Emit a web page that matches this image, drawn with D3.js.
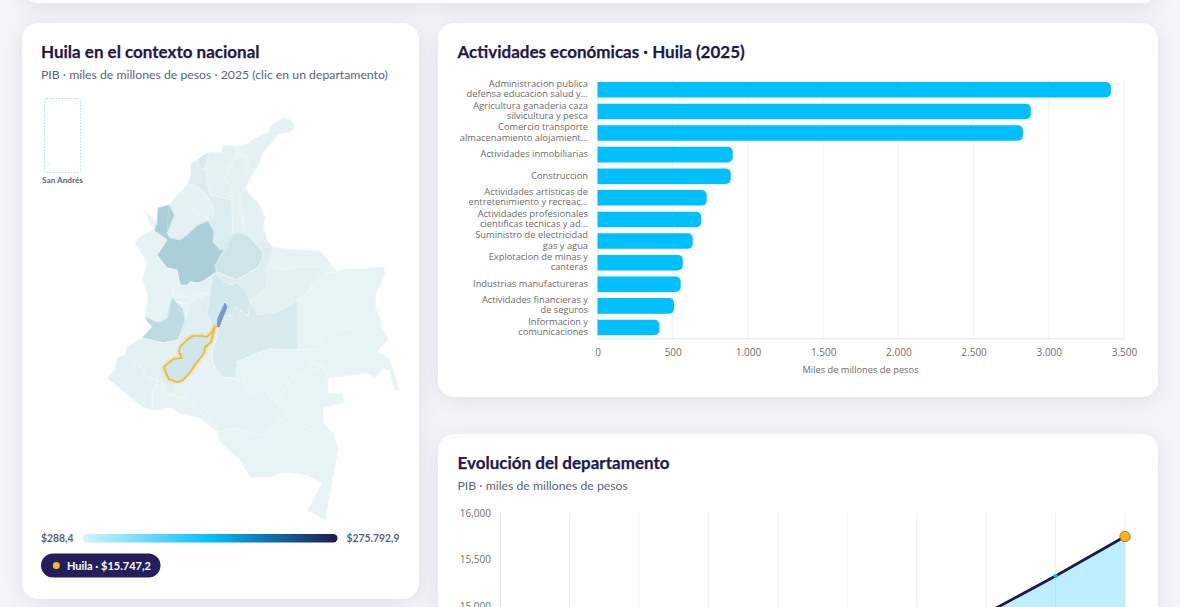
<!DOCTYPE html>
<html>
<head>
<meta charset="utf-8">
<script src="https://cdn.jsdelivr.net/npm/d3@7"></script>
<style>
html, body { margin: 0; padding: 0; width: 1180px; height: 607px; overflow: hidden; background: #f6f5f8; }
svg { display: block; position: absolute; left: 0; top: 0; }
.card { filter: drop-shadow(0 4px 12px rgba(31, 26, 77, 0.10)); }
.title { font-family: Lato, sans-serif; font-weight: 700; font-size: 17px; fill: #1f1a4d; stroke: #1f1a4d; stroke-width: 0.25px; }
.sub { font-family: Lato, sans-serif; font-size: 12.25px; fill: #5a6478; }
.tick text { font-family: "Open Sans", sans-serif; font-size: 10px; fill: #6f6f6f; }
.cat text, .axis-title { font-family: "Open Sans", sans-serif; font-size: 9.3px; fill: #6b6b6b; }
.legend-label { font-family: Lato, sans-serif; font-weight: 700; font-size: 10.4px; fill: #5a6478; }
</style>
</head>
<body>
<svg id="chart" width="1180" height="607"></svg>
<script>
// actividades (barras)
var categories = [
  "Administracion publica|defensa educacion salud y...",
  "Agricultura ganaderia caza|silvicultura y pesca",
  "Comercio transporte|almacenamiento alojamient...",
  "Actividades inmobiliarias",
  "Construccion",
  "Actividades artisticas de|entretenimiento y recreac...",
  "Actividades profesionales|cientificas tecnicas y ad...",
  "Suministro de electricidad|gas y agua",
  "Explotacion de minas y|canteras",
  "Industrias manufactureras",
  "Actividades financieras y|de seguros",
  "Informacion y|comunicaciones"
];
var activityValues = [3413, 2881, 2828, 899, 886, 726, 690, 633, 567, 553, 509, 411];
var activityTicks = [0, 500, 1000, 1500, 2000, 2500, 3000, 3500];

// evolucion del departamento (la parte baja queda fuera de la ventana)
var years = [2016, 2017, 2018, 2019, 2020, 2021, 2022, 2023, 2024, 2025];
var pibValues = [12700, 12980, 13230, 12520, 13300, 14050, 14500, 14920, 15323, 15747];
var pibTicks = [15000, 15500, 16000];

// contorno del pais en lon/lat
var countryRing = [[-73.8,11.36],[-73.4,11.4],[-72.88,11.72],[-72.48,11.88],[-72.32,12.2],[-71.88,12.48],[-71.6,12.4],[-71.4,12.16],[-71.6,11.92],[-72.08,11.84],[-72.32,11.52],[-72.68,11.12],[-72.88,10.6],[-73.12,10.2],[-73.4,9.68],[-73.2,9.4],[-72.88,9.08],[-72.6,8.52],[-72.68,8.12],[-72.52,7.6],[-72.28,7.28],[-71.2,7.2],[-70.4,7.16],[-69.72,6.32],[-69.4,6.44],[-68.8,6.44],[-67.88,6.52],[-67.8,6.28],[-67.92,6],[-68.16,5.48],[-68.2,4.92],[-68,4.48],[-67.92,4.08],[-67.68,3.68],[-68.12,3.12],[-67.68,2.88],[-67.52,2.48],[-67.32,1.88],[-67.24,1.6],[-67.4,1.56],[-67.6,2.4],[-67.88,2.48],[-68.2,2.12],[-68.52,2.28],[-70.08,2.08],[-70.08,1.48],[-69.52,1.44],[-69.44,1.08],[-70.28,0.92],[-70.28,0.28],[-69.88,-0.12],[-69.68,-0.72],[-70.2,-3.6],[-70.88,-3.2],[-70.28,-2.12],[-70.92,-1.8],[-71.88,-1.68],[-72.4,-1.88],[-73.2,-1.88],[-73.6,-1.2],[-74.4,-0.48],[-74.48,-0.08],[-75.2,0.48],[-76,0.68],[-76.4,0.92],[-77.08,0.8],[-77.48,0.92],[-77.92,1.28],[-78.92,2.08],[-78.6,2.4],[-78.52,2.88],[-78.2,3],[-78.12,3.32],[-77.52,3.68],[-77.12,4.12],[-77.4,4.48],[-77.28,5.32],[-77.48,6],[-77.32,6.72],[-77.8,7.48],[-77.6,7.72],[-77,8.04],[-77.2,8.2],[-77.4,8.76],[-77.2,8.56],[-76.92,8.28],[-76.76,8.6],[-76.88,8.88],[-76.44,9],[-76,9.52],[-75.68,9.8],[-75.56,10.2],[-75.56,10.64],[-75.32,10.8],[-74.84,11.12],[-74.32,11.08],[-74.28,11.4]];

// departamentos: nombre, PIB estimado y contorno en lon/lat
var deptNames = ["La Guajira","Magdalena","Atlantico","Bolivar","Sucre","Cordoba","Antioquia","Choco","Cesar","Norte de Santander","Santander","Boyaca","Arauca","Casanare","Vichada","Guainia","Meta","Guaviare","Vaupes","Amazonas","Caqueta","Tolima","Caldas","Risaralda","Quindio","Valle del Cauca","Cundinamarca","Cauca","Narino","Putumayo","Huila","Bogota"];
var deptValues = [6000,12000,48000,32000,6000,9000,172000,3000,11000,9000,78000,28000,4000,12000,800,500,40000,1200,288.4,900,3000,20000,11000,10000,5000,118000,60000,11000,9000,3000,15747.2,275792.9];
var deptRings = [
  [[-73.8,11.36],[-73.4,11.4],[-72.88,11.72],[-72.48,11.88],[-72.32,12.2],[-71.88,12.48],[-71.6,12.4],[-71.4,12.16],[-71.6,11.92],[-72.08,11.84],[-72.32,11.52],[-72.68,11.12],[-72.88,10.6],[-73.12,10.2],[-73.4,10.52],[-73.24,10.72],[-73.32,10.92],[-73.72,11]],
  [[-74.84,11.12],[-74.32,11.08],[-74.28,11.4],[-73.8,11.36],[-73.72,11],[-74.08,10.48],[-74.2,10.08],[-73.92,9.68],[-73.92,9.2],[-74.8,9.4],[-74.96,10],[-74.96,10.36]],
  [[-74.84,11.12],[-75.32,10.8],[-75.36,10.56],[-75.08,10.4],[-74.96,10.36]],
  [[-75.32,10.8],[-75.56,10.64],[-75.56,10.2],[-75.68,9.8],[-75.4,9.8],[-75,9.48],[-74.68,8.92],[-74.68,8.48],[-74.88,8.36],[-74.64,7.92],[-74.68,7.52],[-74.4,7.2],[-74.08,7.32],[-73.88,7.88],[-73.92,8.68],[-73.92,9.2],[-74.8,9.4],[-74.96,10],[-74.96,10.36],[-75.08,10.4],[-75.36,10.56]],
  [[-76,9.52],[-75.68,9.8],[-75.4,9.8],[-75,9.48],[-74.68,8.92],[-74.68,8.48],[-75,8.52],[-75.4,8.68],[-75.48,9.28]],
  [[-76.44,9],[-76,9.52],[-75.48,9.28],[-75.4,8.68],[-75,8.52],[-74.88,8.36],[-75.28,8.2],[-75.72,7.8],[-76,7.6],[-76.4,7.68],[-76.52,7.88],[-76.24,8.6]],
  [[-76.88,8.88],[-76.44,9],[-76.24,8.6],[-76.52,7.88],[-76.4,7.68],[-76,7.6],[-75.72,7.8],[-75.28,8.2],[-74.88,8.36],[-74.64,7.92],[-74.68,7.52],[-74.4,7.2],[-74.08,7.32],[-74.52,6.72],[-74.6,6.28],[-75.12,5.92],[-75.32,5.88],[-75.6,5.92],[-75.68,5.8],[-76,5.8],[-76.12,6.4],[-76.52,6.48],[-76.92,7],[-76.52,7.6],[-77.08,8],[-76.92,8.28],[-76.76,8.6]],
  [[-77.4,8.76],[-77.2,8.56],[-76.92,8.28],[-77.08,8],[-76.52,7.6],[-76.92,7],[-76.52,6.48],[-76.12,6.4],[-76,5.8],[-76.28,5.6],[-76.32,5.32],[-76.4,4.8],[-76.52,4.48],[-76.8,4.32],[-77.04,4.36],[-77.32,4.52],[-77.4,4.48],[-77.28,5.32],[-77.48,6],[-77.32,6.72],[-77.8,7.48],[-77.6,7.72],[-77,8.04],[-77.2,8.2]],
  [[-73.72,11],[-73.32,10.92],[-73.24,10.72],[-73.4,10.52],[-73.12,10.2],[-73.4,9.68],[-73.6,9.28],[-73.68,8.8],[-73.4,8.12],[-73.56,7.88],[-73.88,7.88],[-73.92,8.68],[-73.92,9.2],[-73.92,9.68],[-74.2,10.08],[-74.08,10.48]],
  [[-73.6,9.28],[-73.4,9.68],[-73.2,9.4],[-72.88,9.08],[-72.6,8.52],[-72.68,8.12],[-72.52,7.6],[-73,7.48],[-73.32,7.8],[-73.56,7.88],[-73.4,8.12],[-73.68,8.8]],
  [[-73.88,7.88],[-73.56,7.88],[-73.32,7.8],[-73,7.48],[-72.68,7.12],[-72.72,6.8],[-72.92,6.48],[-73.72,6],[-74.52,6.32],[-74.6,6.6],[-74.52,6.72],[-74.08,7.32]],
  [[-74.52,6.32],[-73.72,6],[-72.92,6.48],[-72.72,6.8],[-72.68,7.12],[-73,7.48],[-72.52,7.6],[-72.28,7.28],[-72.52,6.52],[-72.4,6.12],[-72.52,5.72],[-73.2,5.12],[-73.4,5.6],[-73.72,5.88],[-74,5.8],[-74.48,6.12],[-74.6,6.28]],
  [[-72.28,7.28],[-71.2,7.2],[-70.4,7.16],[-69.72,6.32],[-70.12,6.28],[-70.4,6.52],[-71.32,6.52],[-72,6.4],[-72.52,6.52]],
  [[-72.52,6.52],[-72,6.4],[-71.32,6.52],[-70.4,6.52],[-70.12,6.28],[-70.68,5.88],[-70.92,5.52],[-71.28,5.2],[-72.12,4.72],[-72.88,4.6],[-73.2,5.12],[-72.52,5.72],[-72.4,6.12]],
  [[-70.12,6.28],[-69.72,6.32],[-69.4,6.44],[-68.8,6.44],[-67.88,6.52],[-67.8,6.28],[-67.92,6],[-68.16,5.48],[-68.2,4.92],[-68,4.48],[-67.92,4.08],[-68.52,4.28],[-68.92,4.08],[-69.72,4],[-70.32,3.68],[-70.52,3.24],[-71.28,3.2],[-71.28,5.2],[-70.92,5.52],[-70.68,5.88]],
  [[-70.32,3.68],[-69.72,4],[-68.92,4.08],[-68.52,4.28],[-67.92,4.08],[-67.68,3.68],[-68.12,3.12],[-67.68,2.88],[-67.52,2.48],[-67.32,1.88],[-67.24,1.6],[-67.4,1.56],[-67.6,2.4],[-67.88,2.48],[-68.2,2.12],[-68.52,2.28],[-70.08,2.08],[-70.28,2.6],[-70.8,2.68],[-71,2.92],[-70.52,3.24]],
  [[-74.48,4.12],[-74.4,4.52],[-73.92,4.6],[-73.8,4.92],[-73.28,4.56],[-73.2,5.12],[-72.88,4.6],[-72.12,4.72],[-71.28,5.2],[-71.28,3.2],[-72.4,3.24],[-73.08,3],[-73.72,2.72],[-73.8,2.08],[-74.32,2.12],[-74.68,2.6],[-74.72,3.12],[-74.56,3.6]],
  [[-73.72,2.72],[-73.08,3],[-72.4,3.24],[-71.28,3.2],[-70.52,3.24],[-71,2.92],[-70.8,2.68],[-70.28,2.6],[-70.4,2.48],[-71.52,2.12],[-71.88,1.48],[-72.2,1.12],[-72.6,1.6],[-73.2,1.4],[-73.8,2.08]],
  [[-70.28,2.6],[-70.08,2.08],[-70.08,1.48],[-69.52,1.44],[-69.44,1.08],[-70.28,0.92],[-70.28,0.28],[-69.88,-0.12],[-69.68,-0.72],[-70.48,-0.52],[-70.52,-0.08],[-71.08,0.2],[-71.64,0.6],[-72.2,1.12],[-71.88,1.48],[-71.52,2.12],[-70.4,2.48]],
  [[-69.68,-0.72],[-70.2,-3.6],[-70.88,-3.2],[-70.28,-2.12],[-70.92,-1.8],[-71.88,-1.68],[-72.4,-1.88],[-73.2,-1.88],[-73.6,-1.2],[-74.4,-0.48],[-74.48,-0.08],[-73.88,0.08],[-73.32,-0.08],[-72.72,-0.2],[-72.2,0.2],[-71.64,0.6],[-71.08,0.2],[-70.52,-0.08],[-70.48,-0.52]],
  [[-74.48,4.12],[-74.56,3.6],[-74.72,3.12],[-74.68,2.6],[-74.32,2.12],[-73.8,2.08],[-73.2,1.4],[-72.6,1.6],[-72.2,1.12],[-71.64,0.6],[-72.2,0.2],[-72.72,-0.2],[-73.32,-0.08],[-73.88,0.08],[-74.48,-0.08],[-74.8,0.4],[-75.28,0.8],[-75.72,1.2],[-76.28,1.4],[-76.12,1.92],[-75.68,2.28],[-75.28,2.8],[-75,3.12],[-74.72,3.6]],
  [[-74.8,5.48],[-74.92,4.68],[-74.68,4.16],[-74.6,4.16],[-74.92,3.72],[-75.48,3.76],[-75.72,3.6],[-76,3.32],[-76.12,3.6],[-75.96,3.92],[-75.8,4.4],[-75.6,5.08],[-75.48,5.52]],
  [[-76.28,5.6],[-76,5.8],[-75.68,5.8],[-75.6,5.92],[-75.32,5.88],[-75.12,5.92],[-74.6,6.28],[-74.72,6.08],[-74.8,5.48],[-75.48,5.52],[-75.6,5.28],[-76.08,5.28]],
  [[-76.28,5.6],[-76.08,5.28],[-75.6,5.28],[-75.6,5.08],[-75.88,5.08],[-76.16,5.12],[-76.32,5.32]],
  [[-76.16,5.12],[-75.88,5.08],[-75.6,5.08],[-75.8,4.4],[-75.92,4.88]],
  [[-76.32,5.32],[-76.16,5.12],[-75.92,4.88],[-75.8,4.4],[-75.96,3.92],[-76.12,3.6],[-76.68,3.48],[-77.52,3.68],[-77.12,4.12],[-77.4,4.48],[-77.32,4.52],[-77.04,4.36],[-76.8,4.32],[-76.52,4.48],[-76.4,4.8]],
  [[-74.72,6.08],[-74.6,6.28],[-74.48,6.12],[-74,5.8],[-73.72,5.88],[-73.4,5.6],[-73.2,5.12],[-73.28,4.56],[-73.8,4.92],[-73.92,4.6],[-74.4,4.52],[-74.48,4.12],[-74.6,4.16],[-74.68,4.16],[-74.92,4.68],[-74.8,5.48]],
  [[-78.2,3],[-78.12,3.32],[-77.52,3.68],[-76.68,3.48],[-76.12,3.6],[-76,3.32],[-76.04,3.12],[-75.92,2.88],[-76.24,2.84],[-76.4,2.72],[-76.64,2.52],[-76.56,2.28],[-76.44,2.04],[-76.12,1.92],[-76.28,1.4],[-76.6,1.52],[-76.72,1.88],[-77,1.72],[-76.88,2],[-77.32,2.12],[-77.6,2.6],[-78,3]],
  [[-78.92,2.08],[-78.6,2.4],[-78.52,2.88],[-78.2,3],[-78,3],[-77.6,2.6],[-77.32,2.12],[-76.88,2],[-77,1.72],[-77.12,1.52],[-77.12,0.88],[-77.08,0.8],[-77.48,0.92],[-77.92,1.28]],
  [[-77.12,1.52],[-77,1.72],[-76.72,1.88],[-76.6,1.52],[-76.28,1.4],[-75.72,1.2],[-75.28,0.8],[-74.8,0.4],[-74.48,-0.08],[-75.2,0.48],[-76,0.68],[-76.4,0.92],[-77.08,0.8],[-77.12,0.88]],
  [[-74.6,4.16],[-74.72,3.92],[-74.92,3.72],[-75.12,3.76],[-75.48,3.76],[-75.72,3.6],[-76,3.32],[-76.04,3.12],[-75.92,2.88],[-76.24,2.84],[-76.4,2.72],[-76.64,2.52],[-76.56,2.28],[-76.44,2.04],[-76.12,1.92],[-75.88,2],[-75.6,2.32],[-75.32,2.72],[-75.04,3.08],[-75,3.32],[-74.76,3.52],[-74.52,4.04]],
  [[-74.2,5.08],[-74.12,4.92],[-74.28,4.52],[-74.44,4.12],[-74.52,4.12],[-74.48,4.48],[-74.32,4.88]]
];
var islandRings = [
  [[-81.71,12.6],[-81.69,12.58],[-81.7,12.5],[-81.72,12.52]],
  [[-81.37,13.39],[-81.35,13.37],[-81.37,13.32],[-81.39,13.34]]
];
var islandValue = 1800;

var legendStops = ["#d6f3ff", "#00bfff", "#1f1a4d"];
var legendMin = "$288,4";
var legendMax = "$275.792,9";
var selectedLabel = "Huila · $15.747,2";

var svg = d3.select("#chart");
var esCO = d3.formatLocale({ decimal: ",", thousands: ".", grouping: [3], currency: ["$", ""] });

function card(x, y, w, h) {
  svg.append("rect").attr("class", "card")
    .attr("x", x).attr("y", y).attr("width", w).attr("height", h)
    .attr("rx", 16).attr("fill", "#fff");
}
card(22, -60, 1136, 63);
card(22, 23, 397, 576);
card(438, 23, 720, 374);
card(438, 434, 720, 400);

function heading(x, y, title, sub) {
  svg.append("text").attr("class", "title").attr("x", x).attr("y", y).text(title);
  if (sub) svg.append("text").attr("class", "sub").attr("x", x).attr("y", y + 21).text(sub);
}
heading(41, 58, "Huila en el contexto nacional", "PIB · miles de millones de pesos · 2025 (clic en un departamento)");
heading(457.5, 58, "Actividades económicas · Huila (2025)");
heading(457.5, 469, "Evolución del departamento", "PIB · miles de millones de pesos");

// ---- mapa
var mapColor = d3.scaleLinear()
  .domain([288.4, 30000, 80000, 120000, 172000, 275792.9])
  .range(["#e7f3f5", "#dcedf0", "#cde4e9", "#bcdbe1", "#abcfd8", "#7d98c4"]);

var projection = d3.geoIdentity().reflectY(true).scale(25).translate([2080, 430]);
var path = d3.geoPath(projection);

var defs = svg.append("defs");
var glow = defs.append("filter").attr("id", "glow").attr("x", "-20%").attr("y", "-20%").attr("width", "140%").attr("height", "140%");
glow.append("feGaussianBlur").attr("stdDeviation", 1.8).attr("result", "b");
var merge = glow.append("feMerge");
merge.append("feMergeNode").attr("in", "b");
merge.append("feMergeNode").attr("in", "SourceGraphic");

var depts = deptNames.map(function(name, i) {
  return { type: "Feature", name: name, value: deptValues[i],
    geometry: { type: "Polygon", coordinates: [deptRings[i]] } };
});

// capa base para tapar huecos entre poligonos
svg.append("path")
  .datum({ type: "Polygon", coordinates: [countryRing] })
  .attr("d", path)
  .attr("fill", "#e7f3f5");

var others = depts.filter(function(d) { return d.name !== "Huila"; });
svg.append("g").selectAll("path")
  .data(others)
  .enter().append("path")
  .attr("d", path)
  .attr("fill", function(d) { return mapColor(d.value); })
  .attr("stroke", function(d) { return mapColor(d.value); })
  .attr("stroke-width", 0.8);
svg.append("g").selectAll("path")
  .data(others.filter(function(d) { return d.name !== "Bogota"; }))
  .enter().append("path")
  .attr("d", path)
  .attr("fill", "none")
  .attr("stroke", "#fff")
  .attr("stroke-opacity", 0.45)
  .attr("stroke-width", 0.6)
  .attr("stroke-linejoin", "round");

// Bogota queda encima de las lineas blancas
svg.append("path")
  .datum(others.filter(function(d) { return d.name === "Bogota"; })[0])
  .attr("d", path)
  .attr("fill", function(d) { return mapColor(d.value); });

// Huila va encima, resaltado
svg.append("path")
  .datum(depts.filter(function(d) { return d.name === "Huila"; })[0])
  .attr("d", path)
  .attr("fill", "#cfe6ec")
  .attr("stroke", "#f6b92b")
  .attr("stroke-width", 1.7)
  .attr("stroke-linejoin", "round")
  .attr("filter", "url(#glow)");

// recuadro San Andres
var insetProjection = d3.geoIdentity().reflectY(true).scale(76).translate([6258.1, 1119.6]);
svg.append("rect")
  .attr("x", 44.5).attr("y", 98.5).attr("width", 36).attr("height", 74).attr("rx", 2)
  .attr("fill", "none").attr("stroke", "#a5e6ff").attr("stroke-width", 1).attr("stroke-dasharray", "1.5 1.5");
svg.append("g").selectAll("path")
  .data(islandRings)
  .enter().append("path")
  .attr("d", function(r) { return d3.geoPath(insetProjection)({ type: "Polygon", coordinates: [r] }); })
  .attr("fill", mapColor(islandValue));
svg.append("text")
  .attr("x", 62.5).attr("y", 183).attr("text-anchor", "middle")
  .attr("font-family", "Lato").attr("font-weight", 700).attr("font-size", 8.2).attr("fill", "#5a6478")
  .text("San Andrés");

// leyenda
var grad = defs.append("linearGradient").attr("id", "legendGrad");
grad.selectAll("stop").data(legendStops).enter().append("stop")
  .attr("offset", function(d, i) { return i / (legendStops.length - 1); })
  .attr("stop-color", function(d) { return d; });
svg.append("rect").attr("x", 83).attr("y", 534).attr("width", 254.5).attr("height", 8.5).attr("rx", 4.2).attr("fill", "url(#legendGrad)");
svg.append("text").attr("class", "legend-label").attr("x", 41).attr("y", 541.5).text(legendMin);
svg.append("text").attr("class", "legend-label").attr("x", 399.5).attr("y", 541.5).attr("text-anchor", "end").text(legendMax);
svg.append("rect").attr("x", 41).attr("y", 553.5).attr("width", 119.5).attr("height", 24).attr("rx", 12).attr("fill", "#241f5c");
svg.append("circle").attr("cx", 56.3).attr("cy", 565.5).attr("r", 3.5).attr("fill", "#ffb81c");
svg.append("text").attr("x", 67).attr("y", 569.5)
  .attr("font-family", "Lato").attr("font-weight", 700).attr("font-size", 11).attr("fill", "#fff").text(selectedLabel);

// ---- barras
var barX = d3.scaleLinear().domain([0, 3500]).range([597.5, 1124]);
var barY = d3.scaleBand().domain(categories).range([79, 338.3]).paddingInner(0.28).paddingOuter(0.14);

svg.append("g").selectAll("line").data(activityTicks.slice(1)).enter().append("line")
  .attr("x1", barX).attr("x2", barX).attr("y1", 79).attr("y2", 338.3)
  .attr("stroke", "#eef0f4").attr("stroke-width", 1);

var xAxis = svg.append("g").attr("transform", "translate(0,338.3)")
  .call(d3.axisBottom(barX).tickValues(activityTicks).tickFormat(esCO.format(",d")).tickSize(0).tickPadding(11));
xAxis.select(".domain").attr("stroke", "#e3e5ea");

var yAxis = svg.append("g").attr("class", "cat").attr("transform", "translate(597.5,0)")
  .call(d3.axisLeft(barY).tickSize(0).tickFormat(""));
yAxis.select(".domain").attr("stroke", "#e3e5ea");
yAxis.selectAll(".tick text").each(function(d) {
  var lines = d.split("|");
  var el = d3.select(this).attr("x", -9.5).attr("dy", null).attr("y", lines.length > 1 ? -2.8 : 2.8);
  lines.forEach(function(l, i) {
    el.append("tspan").attr("x", -9.5).attr("dy", i ? 10.4 : 0).text(l);
  });
});

function barPath(d, i) {
  var x0 = barX(0), x1 = barX(d), y = barY(categories[i]), h = barY.bandwidth(), r = 5;
  var p = d3.path();
  p.moveTo(x0, y);
  p.lineTo(x1 - r, y);
  p.arcTo(x1, y, x1, y + r, r);
  p.lineTo(x1, y + h - r);
  p.arcTo(x1, y + h, x1 - r, y + h, r);
  p.lineTo(x0, y + h);
  p.closePath();
  return p.toString();
}
svg.append("g").selectAll("path").data(activityValues).enter().append("path")
  .attr("d", barPath).attr("fill", "#00bfff");

svg.append("text").attr("class", "axis-title").attr("x", 860.5).attr("y", 372.5).attr("text-anchor", "middle")
  .text("Miles de millones de pesos");

// ---- evolucion
var lineX = d3.scalePoint().domain(years).range([500, 1125]);
var lineY = d3.scaleLinear().domain([12000, 16000]).range([885, 513]);

svg.append("g").selectAll("line").data(years.slice(1)).enter().append("line")
  .attr("x1", lineX).attr("x2", lineX).attr("y1", 513).attr("y2", 885)
  .attr("stroke", "#eef0f4").attr("stroke-width", 1);

var area = d3.area().x(function(d, i) { return lineX(years[i]); }).y0(885).y1(function(d) { return lineY(d); });
var line = d3.line().x(function(d, i) { return lineX(years[i]); }).y(function(d) { return lineY(d); });
svg.append("path").datum(pibValues).attr("d", area).attr("fill", "#00bfff").attr("fill-opacity", 0.26);
svg.append("path").datum(pibValues).attr("d", line).attr("fill", "none").attr("stroke", "#1f1a4d").attr("stroke-width", 2.8);

svg.append("g").selectAll("circle").data(pibValues.slice(0, -1)).enter().append("circle")
  .attr("cx", function(d, i) { return lineX(years[i]); })
  .attr("cy", function(d) { return lineY(d); })
  .attr("r", 2).attr("fill", "#00bfff");
svg.append("circle")
  .attr("cx", lineX(years[years.length - 1])).attr("cy", lineY(pibValues[pibValues.length - 1]))
  .attr("r", 5.2).attr("fill", "#ffb31a").attr("stroke", "#8f6a18").attr("stroke-width", 0.8);

var pibAxis = svg.append("g").attr("transform", "translate(500,0)")
  .call(d3.axisLeft(lineY).tickValues(pibTicks).tickFormat(d3.format(",d")).tickSize(0).tickPadding(9));
pibAxis.select(".domain").attr("stroke", "#dfe1e6");
</script>
</body>
</html>
